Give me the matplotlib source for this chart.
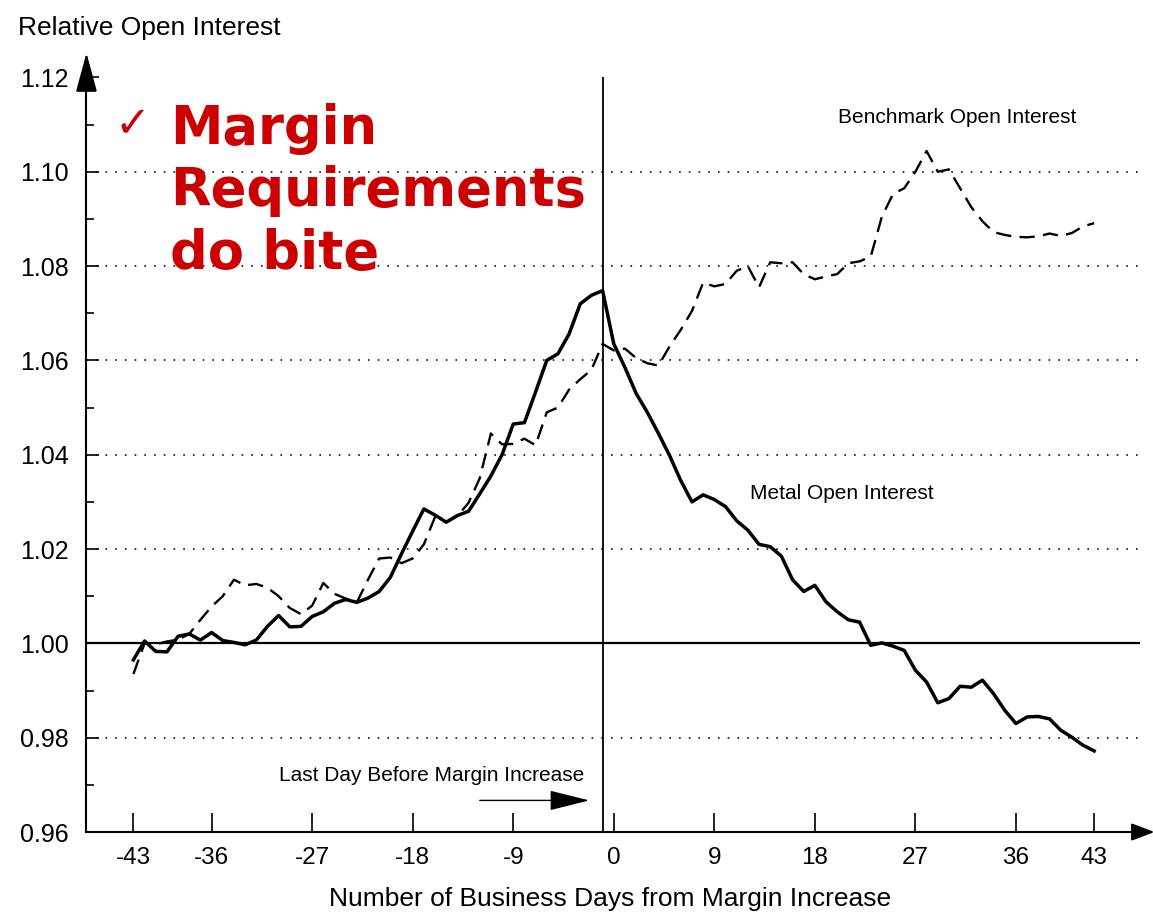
import matplotlib
matplotlib.use('Agg')
import matplotlib.pyplot as plt

# ---------------- data ----------------
days = list(range(-43, 44))

metal_open_interest = [
    0.9965, 1.0005, 0.9983, 0.9982, 1.0015, 1.0020, 1.0007, 1.0023, 1.0006, 1.0002,
    0.9997, 1.0007, 1.0036, 1.0059, 1.0035, 1.0036, 1.0057, 1.0067, 1.0085, 1.0093,
    1.0087, 1.0096, 1.0110, 1.0140, 1.0190, 1.0238, 1.0285, 1.0272, 1.0257, 1.0271,
    1.0280, 1.0317, 1.0355, 1.0400, 1.0465, 1.0468, 1.0533, 1.0600, 1.0614, 1.0656,
    1.0720, 1.0738, 1.0748,
    1.0635, 1.0585, 1.0530, 1.0490, 1.0445, 1.0398, 1.0345, 1.0300, 1.0315, 1.0305,
    1.0290, 1.0260, 1.0240, 1.0210, 1.0205, 1.0185, 1.0135, 1.0110, 1.0123, 1.0088,
    1.0067, 1.0050, 1.0045, 0.9996, 1.0001, 0.9994, 0.9985, 0.9943, 0.9918, 0.9874,
    0.9883, 0.9909, 0.9907, 0.9922, 0.9893, 0.9858, 0.9830, 0.9844, 0.9845, 0.9840,
    0.9816, 0.9801, 0.9784, 0.9772,
]

benchmark_open_interest = [
    0.9935, 1.0000, 0.9998, 1.0004, 1.0008, 1.0020, 1.0050, 1.0078, 1.0100, 1.0135,
    1.0123, 1.0126, 1.0118, 1.0100, 1.0075, 1.0062, 1.0080, 1.0128, 1.0105, 1.0095,
    1.0087, 1.0135, 1.0180, 1.0182, 1.0170, 1.0180, 1.0210, 1.0268, 1.0257, 1.0270,
    1.0298, 1.0350, 1.0445, 1.0422, 1.0423, 1.0434, 1.0420, 1.0490, 1.0500, 1.0538,
    1.0560, 1.0580, 1.0635,
    1.0621, 1.0625, 1.0605, 1.0594, 1.0589, 1.0630, 1.0665, 1.0705, 1.0765, 1.0757,
    1.0762, 1.0790, 1.0800, 1.0755, 1.0808, 1.0806, 1.0808, 1.0783, 1.0772, 1.0778,
    1.0783, 1.0806, 1.0810, 1.0820, 1.0905, 1.0953, 1.0965, 1.1000, 1.1044, 1.1000,
    1.1005, 1.0965, 1.0925, 1.0895, 1.0872, 1.0866, 1.0862, 1.0861, 1.0863, 1.0869,
    1.0864, 1.0870, 1.0884, 1.0891,
]

x_ticks = [-43, -36, -27, -18, -9, 0, 9, 18, 27, 36, 43]
y_ticks = [0.96, 0.98, 1.00, 1.02, 1.04, 1.06, 1.08, 1.10, 1.12]
y_minor_ticks = [0.97, 0.99, 1.01, 1.03, 1.05, 1.07, 1.09, 1.11]
dotted_levels = [0.98, 1.02, 1.04, 1.06, 1.08, 1.10]
baseline_level = 1.00
last_day_before_increase = -1

# ---------------- style ----------------
plt.rcParams['font.family'] = ['Liberation Sans', 'DejaVu Sans']
plt.rcParams['lines.scale_dashes'] = False

fig = plt.figure(figsize=(11.53, 9.13), dpi=100)
ax = fig.add_axes([0.0750, 0.0887, 0.9137, 0.8265])
xmin, xmax = -47.2, 47.1
ymin, ymax = 0.96, 1.12
ax.set_xlim(xmin, xmax)
ax.set_ylim(ymin, ymax)

for s in ['top', 'right']:
    ax.spines[s].set_visible(False)
for s in ['left', 'bottom']:
    ax.spines[s].set_linewidth(1.5)

ax.set_xticks(x_ticks)
ax.set_xticklabels([str(t) for t in x_ticks])
ax.set_yticks(y_ticks)
ax.set_yticklabels([f'{v:.2f}' for v in y_ticks])
ax.set_yticks(y_minor_ticks, minor=True)
ax.tick_params(axis='x', which='major', direction='in', length=14, width=1.2,
               pad=11, labelsize=17.5)
ax.tick_params(axis='y', which='major', direction='in', length=9.5, width=1.2,
               pad=13, labelsize=18)
ax.tick_params(axis='y', which='minor', direction='in', length=5.5, width=1.2)

# reference lines
for lv in dotted_levels:
    ax.axhline(lv, color='#222222', lw=1.3, linestyle=(0, (1.2, 5.8)), zorder=1)
ax.axhline(baseline_level, color='black', lw=1.6, zorder=1)
ax.axvline(last_day_before_increase, color='black', lw=1.3, zorder=1)

# series
ax.plot(days, benchmark_open_interest, color='black', lw=1.7, dashes=(11, 6),
        zorder=3)
ax.plot(days, metal_open_interest, color='black', lw=2.5, zorder=4,
        solid_joinstyle='round')

# axis arrows
ax.annotate('', xy=(48.4, ymin), xytext=(46.0, ymin), annotation_clip=False,
            arrowprops=dict(arrowstyle='-|>,head_length=1.0,head_width=0.38',
                            mutation_scale=14, color='black', lw=1.5,
                            shrinkA=0, shrinkB=0))
ax.annotate('', xy=(xmin, 1.1252), xytext=(xmin, 1.117), annotation_clip=False,
            arrowprops=dict(arrowstyle='-|>,head_length=1.22,head_width=0.33',
                            mutation_scale=20, color='black', lw=1.5,
                            shrinkA=0, shrinkB=0))

# annotations
ax.text(20.05, 1.1114, 'Benchmark Open Interest', fontsize=15, ha='left',
        va='center')
ax.text(12.2, 1.0318, 'Metal Open Interest', fontsize=15, ha='left',
        va='center')
ax.text(-2.6, 0.9720, 'Last Day Before Margin Increase', fontsize=15,
        ha='right', va='center')
ax.annotate('', xy=(-2.2, 0.9667), xytext=(-12.0, 0.9667),
            arrowprops=dict(arrowstyle='-|>,head_length=1.4,head_width=0.35',
                            mutation_scale=18, color='black', lw=1.0,
                            shrinkA=0, shrinkB=0))

red = '#cc0000'
ax.text(-39.75, 1.1091, 'Margin', fontsize=38, fontweight='bold', color=red,
        family='DejaVu Sans', ha='left', va='center')
ax.text(-39.75, 1.0960, 'Requirements', fontsize=38, fontweight='bold',
        color=red, family='DejaVu Sans', ha='left', va='center')
ax.text(-39.75, 1.0826, 'do bite', fontsize=38, fontweight='bold', color=red,
        family='DejaVu Sans', ha='left', va='center')
ax.text(-43.1, 1.1100, '\u2713', fontsize=31, color=red, family='DejaVu Sans',
        ha='center', va='center')

fig.text(18 / 1153, 1 - 28 / 913, 'Relative Open Interest', fontsize=19,
         ha='left', va='center')
fig.text(610 / 1153, 1 - 899 / 913,
         'Number of Business Days from Margin Increase', fontsize=19,
         ha='center', va='center')

fig.savefig('out.png', dpi=100)
